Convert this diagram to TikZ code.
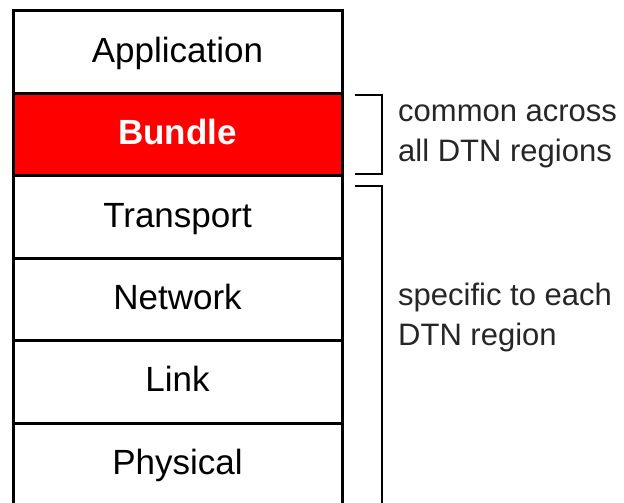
\documentclass[tikz,border=0pt]{standalone}
\usepackage{fontspec}
\setmainfont{Liberation Sans}
\usetikzlibrary{positioning}

\begin{document}
\begin{tikzpicture}[x=1pt, y=-1pt,
	layer/.style={draw, line width=3pt, outer sep=0pt, minimum width=329pt, minimum height=82.4pt,
		text height=25pt, text depth=5pt, inner sep=0pt, font=\fontsize{35}{40}\selectfont},
	note/.style={anchor=base west, align=left, inner sep=0pt, font=\fontsize{31}{40}\selectfont, text=black!85}]
	\useasboundingbox (0,0) rectangle (624,503);
	\node[layer, anchor=north west] (app) at (13,11) {Application};
	\node[layer, below=0pt of app, fill=red, text=white, font=\fontsize{35}{40}\selectfont\bfseries] (bundle) {Bundle};
	\node[layer, below=0pt of bundle] (transport) {Transport};
	\node[layer, below=0pt of transport] (network) {Network};
	\node[layer, below=0pt of network] (link) {Link};
	\node[layer, below=0pt of link] (physical) {Physical};
	\draw[line width=1.3pt] (355,95) -- (382,95) -- (382,174) -- (355,174);
	\draw[line width=1.3pt] (355,186) -- (382,186) -- (382,510);
	\node[note] (common) at (398,161) {common across\\all DTN regions};
	\node[note] (specific) at (398,345) {specific to each\\DTN region};
\end{tikzpicture}
\end{document}
